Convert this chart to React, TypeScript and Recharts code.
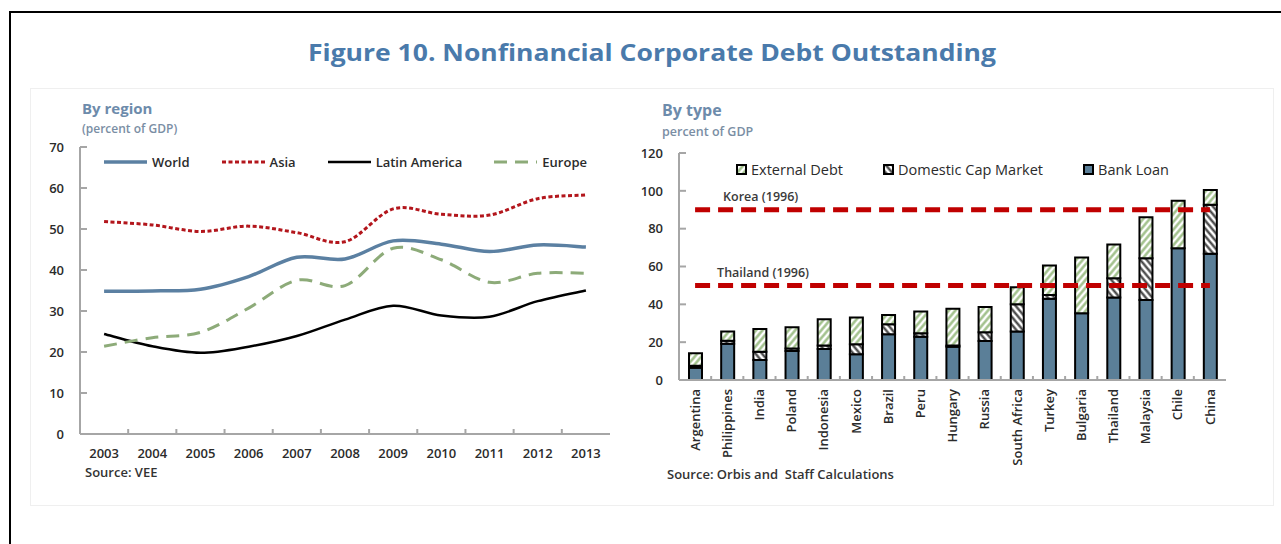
import React from 'react';
import { LineChart, Line, XAxis, YAxis, BarChart, Bar, ReferenceLine, Legend } from 'recharts';

// ---------- Data ----------
const years = ['2003', '2004', '2005', '2006', '2007', '2008', '2009', '2010', '2011', '2012', '2013'];
const world = [34.8, 34.9, 35.3, 38.4, 43.1, 42.7, 47.1, 46.3, 44.5, 46.1, 45.6];
const asia = [51.8, 51.0, 49.4, 50.7, 49.1, 46.9, 54.9, 53.6, 53.4, 57.4, 58.3];
const latinAmerica = [24.4, 21.4, 19.8, 21.3, 23.9, 27.9, 31.3, 28.9, 28.6, 32.4, 35.0];
const europe = [21.4, 23.5, 24.8, 30.7, 37.5, 36.2, 45.3, 42.5, 37.0, 39.2, 39.2];
const regionTicks = [0, 10, 20, 30, 40, 50, 60, 70];
const regionSeriesNames = ['World', 'Asia', 'Latin America', 'Europe'];

const countries = ['Argentina', 'Philippines', 'India', 'Poland', 'Indonesia', 'Mexico', 'Brazil', 'Peru', 'Hungary', 'Russia', 'South Africa', 'Turkey', 'Bulgaria', 'Thailand', 'Malaysia', 'Chile', 'China'];
const bankLoan = [6.5, 19.2, 10.6, 15.3, 16.4, 13.6, 24.2, 22.9, 17.6, 20.6, 25.6, 42.9, 35.3, 43.6, 42.3, 69.7, 66.7];
const domesticCapMarket = [1.0, 1.6, 4.4, 1.3, 1.8, 5.3, 5.3, 1.8, 0.6, 4.6, 14.4, 2.1, 0, 10.2, 22.1, 0, 25.9];
const externalDebt = [6.6, 4.8, 12.0, 11.3, 13.9, 14.1, 4.9, 11.5, 19.5, 13.4, 9.0, 15.5, 29.4, 17.8, 21.7, 25.0, 7.9];
const typeTicks = [0, 20, 40, 60, 80, 100, 120];
const typeLegendOrder = ['External Debt', 'Domestic Cap Market', 'Bank Loan'];

const benchmarkNames = ['Korea (1996)', 'Thailand (1996)'];
const benchmarkValues = [90, 50];

// ---------- Tables built from arrays ----------
const regionData = years.map((year, i) => ({
  year,
  world: world[i],
  asia: asia[i],
  latinAmerica: latinAmerica[i],
  europe: europe[i],
}));

const typeData = countries.map((country, i) => ({
  country,
  bankLoan: bankLoan[i],
  domestic: domesticCapMarket[i],
  external: externalDebt[i],
}));

// ---------- Styles ----------
const FONT = '"Open Sans", "Noto Sans", sans-serif';
const AXIS_GRAY = '#a6a6a6';
const TEXT_DARK = '#2b2b2b';

const lineStyles: Record<string, { color: string; width: number; dash?: string }> = {
  World: { color: '#5b80a2', width: 3.5 },
  Asia: { color: '#b3161c', width: 3, dash: '4 2.5' },
  'Latin America': { color: '#000000', width: 2.5 },
  Europe: { color: '#8dab79', width: 3, dash: '13 8' },
};

const barStyles: Record<string, string> = {
  'Bank Loan': '#5b7f98',
  'Domestic Cap Market': 'url(#domHatch)',
  'External Debt': 'url(#extHatch)',
};

// Excel-like smoothed line (Catmull-Rom style bezier)
function excelSmooth(context: any) {
  let pts: number[][] = [];
  return {
    areaStart() {},
    areaEnd() {},
    lineStart() {
      pts = [];
    },
    point(x: number, y: number) {
      pts.push([+x, +y]);
    },
    lineEnd() {
      const n = pts.length;
      if (!n) return;
      context.moveTo(pts[0][0], pts[0][1]);
      const t = 1 / 6;
      for (let i = 0; i < n - 1; i++) {
        const p0 = pts[i - 1] || pts[i];
        const p1 = pts[i];
        const p2 = pts[i + 1];
        const p3 = pts[i + 2] || p2;
        context.bezierCurveTo(
          p1[0] + (p2[0] - p0[0]) * t,
          p1[1] + (p2[1] - p0[1]) * t,
          p2[0] - (p3[0] - p1[0]) * t,
          p2[1] - (p3[1] - p1[1]) * t,
          p2[0],
          p2[1]
        );
      }
    },
  };
}

// ---------- Custom ticks ----------
const YTick = (props: any) => {
  const { x, y, payload } = props;
  return (
    <g>
      <line x1={x} x2={x + 7} y1={y} y2={y} stroke={AXIS_GRAY} strokeWidth={2} />
      <text x={x - 16} y={y} dy="0.36em" textAnchor="end" fontFamily={FONT} fontSize={13} fontWeight={600} fill={TEXT_DARK}>
        {payload.value}
      </text>
    </g>
  );
};

const makeYearTick = (count: number) => (props: any) => {
  const { x, y, payload, index } = props;
  const off = payload.offset ?? 24;
  return (
    <g>
      {index < count - 1 && <line x1={x + off} x2={x + off} y1={y} y2={y - 5} stroke={AXIS_GRAY} strokeWidth={2} />}
      <text x={x} y={y + 19} dy="0.36em" textAnchor="middle" fontFamily={FONT} fontSize={13} fontWeight={600} fill={TEXT_DARK}>
        {payload.value}
      </text>
    </g>
  );
};

const makeCountryTick = (count: number) => (props: any) => {
  const { x, y, payload, index } = props;
  const off = payload.offset ?? 16;
  const ty = y + 9;
  return (
    <g>
      {index < count - 1 && <line x1={x + off} x2={x + off} y1={y} y2={y - 4} stroke={AXIS_GRAY} strokeWidth={2} />}
      <text x={x} y={ty} dy="0.36em" textAnchor="end" transform={`rotate(-90, ${x}, ${ty})`} fontFamily={FONT} fontSize={13} fontWeight={600} fill={TEXT_DARK}>
        {payload.value}
      </text>
    </g>
  );
};

// ---------- Legends ----------
const RegionLegend = (props: any) => {
  const items = [...(props.payload || [])].sort(
    (a: any, b: any) => regionSeriesNames.indexOf(a.value) - regionSeriesNames.indexOf(b.value)
  );
  return (
    <div style={{ display: 'flex', justifyContent: 'center', alignItems: 'center', gap: 31, height: 20, fontFamily: FONT, fontSize: 13, fontWeight: 600, color: TEXT_DARK }}>
      {items.map((it: any) => {
        const s = lineStyles[it.value];
        return (
          <div key={it.value} style={{ display: 'flex', alignItems: 'center', gap: 4 }}>
            <svg width={45} height={8}>
              <line x1={1} x2={44} y1={4} y2={4} stroke={s.color} strokeWidth={s.width} strokeDasharray={s.dash} />
            </svg>
            <span>{it.value}</span>
          </div>
        );
      })}
    </div>
  );
};

const TypeLegend = (props: any) => {
  const items = [...(props.payload || [])].sort(
    (a: any, b: any) => typeLegendOrder.indexOf(a.value) - typeLegendOrder.indexOf(b.value)
  );
  return (
    <div style={{ display: 'flex', justifyContent: 'center', alignItems: 'center', gap: 40, height: 20, fontFamily: FONT, fontSize: 14.5, color: TEXT_DARK }}>
      {items.map((it: any) => (
        <div key={it.value} style={{ display: 'flex', alignItems: 'center', gap: 4 }}>
          <svg width={11} height={11}>
            <rect x={1} y={1} width={9} height={9} fill={barStyles[it.value]} stroke="#000" strokeWidth={2} />
          </svg>
          <span>{it.value}</span>
        </div>
      ))}
    </div>
  );
};

// ---------- Reference line label ----------
const BenchLabel = (props: any) => {
  const { viewBox, text, dx } = props;
  if (!viewBox) return null;
  return (
    <text x={viewBox.x + dx} y={viewBox.y - 13} dy="0.36em" fontFamily={FONT} fontSize={12.5} fontWeight={600} fill="#3a3a3a">
      {text}
    </text>
  );
};

const benchDx = [28, 22];

export default function App() {
  const YearTick = makeYearTick(years.length);
  const CountryTick = makeCountryTick(countries.length);
  return (
    <div style={{ position: 'absolute', left: 0, top: 0, width: 1281, height: 544, background: '#fff', overflow: 'hidden', fontFamily: FONT }}>
      <svg width={0} height={0} style={{ position: 'absolute' }}>
        <defs>
          <pattern id="extHatch" patternUnits="userSpaceOnUse" width={5} height={5} patternTransform="rotate(40)">
            <rect width={5} height={5} fill="#ffffff" />
            <line x1={1.5} y1={0} x2={1.5} y2={5} stroke="#9cbd85" strokeWidth={2.4} />
          </pattern>
          <pattern id="domHatch" patternUnits="userSpaceOnUse" width={5} height={5} patternTransform="rotate(-40)">
            <rect width={5} height={5} fill="#ffffff" />
            <line x1={1.5} y1={0} x2={1.5} y2={5} stroke="#3c3c3c" strokeWidth={2.2} />
          </pattern>
        </defs>
      </svg>

      {/* outer frame */}
      <div style={{ position: 'absolute', left: 9, top: 11, width: 1400, height: 600, borderLeft: '2px solid #000', borderTop: '2px solid #000' }} />
      {/* inner panel */}
      <div style={{ position: 'absolute', left: 30, top: 88, width: 1242, height: 416, border: '1px solid #efefef', background: '#fff' }} />

      {/* Left chart */}
      <div style={{ position: 'absolute', left: 0, top: 0 }}>
        <LineChart width={640} height={500} data={regionData} margin={{ top: 147, right: 30, bottom: 26, left: 50 }}>
          <XAxis dataKey="year" scale="band" interval={0} height={40} tickSize={0} tickMargin={0} tickLine={false} axisLine={{ stroke: AXIS_GRAY, strokeWidth: 2 }} tick={<YearTick />} />
          <XAxis xAxisId="top" dataKey="year" scale="band" orientation="top" height={0} tick={false} tickLine={false} axisLine={{ stroke: AXIS_GRAY, strokeWidth: 2 }} />
          <YAxis domain={[0, 70]} ticks={regionTicks} interval={0} width={30} tickSize={0} tickMargin={0} tickLine={false} axisLine={{ stroke: AXIS_GRAY, strokeWidth: 2 }} tick={<YTick />} />
          <YAxis yAxisId="right" orientation="right" domain={[0, 70]} width={0} tick={false} tickLine={false} axisLine={{ stroke: AXIS_GRAY, strokeWidth: 2 }} />
          <Legend layout="horizontal" align="center" verticalAlign="middle" wrapperStyle={{ left: 80, top: 152, width: 530 }} content={<RegionLegend />} />
          <Line name="World" dataKey="world" type={excelSmooth as any} stroke={lineStyles['World'].color} strokeWidth={lineStyles['World'].width} dot={false} isAnimationActive={false} />
          <Line name="Asia" dataKey="asia" type={excelSmooth as any} stroke={lineStyles['Asia'].color} strokeWidth={lineStyles['Asia'].width} strokeDasharray={lineStyles['Asia'].dash} dot={false} isAnimationActive={false} />
          <Line name="Latin America" dataKey="latinAmerica" type={excelSmooth as any} stroke={lineStyles['Latin America'].color} strokeWidth={lineStyles['Latin America'].width} dot={false} isAnimationActive={false} />
          <Line name="Europe" dataKey="europe" type={excelSmooth as any} stroke={lineStyles['Europe'].color} strokeWidth={lineStyles['Europe'].width} strokeDasharray={lineStyles['Europe'].dash} dot={false} isAnimationActive={false} />
        </LineChart>
      </div>

      {/* Right chart */}
      <div style={{ position: 'absolute', left: 620, top: 0 }}>
        <BarChart width={640} height={500} data={typeData} margin={{ top: 153, right: 34, bottom: 30, left: 29 }}>
          <XAxis dataKey="country" interval={0} height={90} tickSize={0} tickMargin={0} tickLine={false} axisLine={{ stroke: AXIS_GRAY, strokeWidth: 2 }} tick={<CountryTick />} />
          <XAxis xAxisId="top" dataKey="country" orientation="top" height={0} tick={false} tickLine={false} axisLine={{ stroke: AXIS_GRAY, strokeWidth: 2 }} />
          <YAxis domain={[0, 120]} ticks={typeTicks} interval={0} width={30} tickSize={0} tickMargin={0} tickLine={false} axisLine={{ stroke: AXIS_GRAY, strokeWidth: 2 }} tick={<YTick />} />
          <YAxis yAxisId="right" orientation="right" domain={[0, 120]} width={0} tick={false} tickLine={false} axisLine={{ stroke: AXIS_GRAY, strokeWidth: 2 }} />
          <Legend layout="horizontal" align="center" verticalAlign="middle" wrapperStyle={{ left: 59, top: 159, width: 547 }} content={<TypeLegend />} />
          <Bar name="Bank Loan" dataKey="bankLoan" stackId="a" barSize={13} fill={barStyles['Bank Loan']} stroke="#000" strokeWidth={2} isAnimationActive={false} />
          <Bar name="Domestic Cap Market" dataKey="domestic" stackId="a" barSize={13} fill={barStyles['Domestic Cap Market']} stroke="#000" strokeWidth={2} isAnimationActive={false} />
          <Bar name="External Debt" dataKey="external" stackId="a" barSize={13} fill={barStyles['External Debt']} stroke="#000" strokeWidth={2} isAnimationActive={false} />
          {benchmarkValues.map((v, i) => (
            <ReferenceLine
              key={benchmarkNames[i]}
              segment={[{ x: countries[0], y: v }, { x: countries[countries.length - 1], y: v }]}
              stroke="#c00000"
              strokeWidth={5}
              strokeDasharray="15 8"
              label={<BenchLabel text={benchmarkNames[i]} dx={benchDx[i]} />}
            />
          ))}
        </BarChart>
      </div>

      {/* Static texts */}
      <svg width={1281} height={544} style={{ position: 'absolute', left: 0, top: 0, pointerEvents: 'none' }}>
        <text x={652} y={52} dy="0.36em" textAnchor="middle" fontFamily={FONT} fontSize={24} fontWeight={700} fill="#4a7aab" textLength={688} lengthAdjust="spacingAndGlyphs">
          Figure 10. Nonfinancial Corporate Debt Outstanding
        </text>
        <text x={82} y={109} dy="0.36em" fontFamily={FONT} fontSize={15} fontWeight={700} fill="#6d8bab">By region</text>
        <text x={82} y={129} dy="0.36em" fontFamily={FONT} fontSize={12} fontWeight={600} fill="#7a8ea4">(percent of GDP)</text>
        <text x={662} y={110} dy="0.36em" fontFamily={FONT} fontSize={16} fontWeight={700} fill="#6d8bab">By type</text>
        <text x={662} y={131} dy="0.36em" fontFamily={FONT} fontSize={12.5} fontWeight={600} fill="#7a8ea4">percent of GDP</text>
        <text x={85} y={472} dy="0.36em" fontFamily={FONT} fontSize={13} fontWeight={600} fill="#333">Source: VEE</text>
        <text x={667} y={474} dy="0.36em" fontFamily={FONT} fontSize={13} fontWeight={600} fill="#333" style={{ whiteSpace: 'pre' }}>Source: Orbis and  Staff Calculations</text>
      </svg>
    </div>
  );
}
